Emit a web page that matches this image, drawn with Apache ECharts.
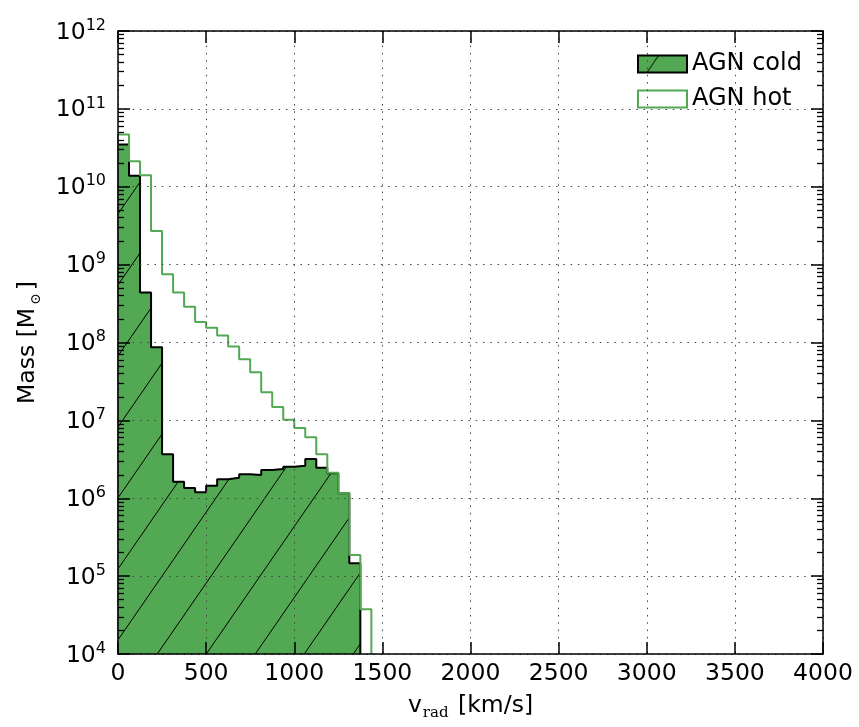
<!DOCTYPE html>
<html>
<head>
<meta charset="utf-8">
<script src="https://cdn.jsdelivr.net/npm/echarts@6/dist/echarts.min.js"></script>
<style>
html,body{margin:0;padding:0;background:#fff;}
#main{width:859px;height:727px;}
</style>
</head>
<body>
<div id="main"></div>
<script>
// histogram bins: 64 bins over 0..4000 km/s, only the filled ones listed
var binWidth = 62.5;
var massMin = 1e4;
var coldMass = [3.5e10, 1.38e10, 4.4e8, 8.7e7, 3.66e6, 1.63e6, 1.35e6, 1.19e6, 1.45e6, 1.75e6, 1.83e6,
    2.03e6, 1.99e6, 2.3e6, 2.37e6, 2.54e6, 2.61e6, 3.18e6, 2.47e6, 2.09e6, 1.16e6, 1.46e5];
var hotMass = [4.7e10, 2.13e10, 1.4e10, 2.7e9, 7.5e8, 4.4e8, 2.87e8, 1.83e8, 1.55e8, 1.23e8, 8.9e7,
    6.1e7, 4.15e7, 2.29e7, 1.48e7, 1.02e7, 8.0e6, 6.05e6, 3.66e6, 2.12e6, 1.16e6, 1.87e5, 3.75e4];
var xTicks = [0, 500, 1000, 1500, 2000, 2500, 3000, 3500, 4000];

var green = '#53a853';
var font = 'DejaVu Sans';
var fs = 23.5;

// step outline from bin values
function steps(vals) {
    var pts = [[0, massMin]];
    vals.forEach(function (v, i) {
        pts.push([i * binWidth, v]);
        pts.push([(i + 1) * binWidth, v]);
    });
    pts.push([vals.length * binWidth, massMin]);
    return pts;
}

// hatch tile '/'
function hatch() {
    var w = 49, s = 1.45, h = w * s;
    var c = document.createElement('canvas');
    c.width = w; c.height = Math.round(h);
    var ctx = c.getContext('2d');
    ctx.fillStyle = green;
    ctx.fillRect(0, 0, c.width, c.height);
    ctx.strokeStyle = '#000';
    ctx.lineWidth = 1;
    for (var k = -1; k <= 2; k++) {
        var x0 = 20.6 + k * w;
        ctx.beginPath();
        ctx.moveTo(x0, 0);
        ctx.lineTo(x0 - c.height / s, c.height);
        ctx.stroke();
    }
    return c;
}
var pattern = {image: hatch(), repeat: 'repeat'};

var myChart = echarts.init(document.getElementById('main'));
var gridLine = {show: true, lineStyle: {color: '#444', width: 1, type: [1.5, 5.8]}};
var frame = {show: true, onZero: false, lineStyle: {color: '#000', width: 1.5}};

var option = {
    animation: false,
    backgroundColor: '#fff',
    grid: {left: 118, right: 36, top: 31, bottom: 73},
    legend: {
        orient: 'vertical',
        left: 632, top: 47,
        itemWidth: 49, itemHeight: 17, itemGap: 11,
        icon: 'rect',
        textStyle: {fontFamily: font, fontSize: 24, color: '#000', padding: [0, 0, 0, 0]},
        data: [
            {name: 'AGN cold', itemStyle: {color: pattern, borderColor: '#000', borderWidth: 2}},
            {name: 'AGN hot', itemStyle: {color: '#fff', borderColor: green, borderWidth: 2}}
        ]
    },
    xAxis: [{
        type: 'value', min: 0, max: 4000, interval: 500, z: 5,
        axisLine: frame,
        axisTick: {inside: true, length: 12, lineStyle: {color: '#000', width: 1.5}},
        splitLine: gridLine,
        axisLabel: {fontFamily: font, fontSize: fs, color: '#000', margin: 8,
            formatter: function (v) { return xTicks.indexOf(v) >= 0 ? String(v) : ''; }},
        name: '{v|v}{s|rad}{v| [km/s]}',
        nameLocation: 'middle', nameGap: 40,
        nameTextStyle: {rich: {
            v: {fontFamily: font, fontSize: fs, color: '#000', verticalAlign: 'bottom'},
            s: {fontFamily: 'DejaVu Serif', fontSize: 15, color: '#000', verticalAlign: 'bottom', padding: [0, 2, -3, 1]}
        }}
    }, {
        type: 'value', position: 'top', min: 0, max: 4000, interval: 500, z: 5,
        axisLine: frame,
        axisTick: {inside: true, length: 12, lineStyle: {color: '#000', width: 1.5}},
        splitLine: {show: false},
        axisLabel: {show: false}
    }],
    yAxis: [{
        type: 'log', logBase: 10, min: massMin, max: 1e12, splitNumber: 8, z: 5,
        axisLine: frame,
        axisTick: {inside: true, length: 12, lineStyle: {color: '#000', width: 1.5}},
        minorTick: {show: true, splitNumber: 9, length: 6, lineStyle: {color: '#000', width: 1.3}},
        splitLine: gridLine,
        axisLabel: {
            margin: 12,
            formatter: function (v) { return '{b|10}{s|' + Math.round(Math.log10(v)) + '}'; },
            rich: {
                b: {fontFamily: font, fontSize: fs, color: '#000', verticalAlign: 'bottom'},
                s: {fontFamily: font, fontSize: 16, color: '#000', verticalAlign: 'bottom', padding: [0, 0, 11, 0]}
            }
        },
        name: '{v|Mass [M}{s|⊙}{v|]}',
        nameLocation: 'middle', nameGap: 78, nameRotate: 90,
        nameTextStyle: {rich: {
            v: {fontFamily: font, fontSize: fs, color: '#000', verticalAlign: 'bottom'},
            s: {fontFamily: 'DejaVu Serif', fontSize: 14, color: '#000', verticalAlign: 'bottom', padding: [0, 3, -3, 3]}
        }}
    }, {
        type: 'log', logBase: 10, min: massMin, max: 1e12, splitNumber: 8, position: 'right', z: 5,
        axisLine: frame,
        axisTick: {inside: true, length: 12, lineStyle: {color: '#000', width: 1.5}},
        minorTick: {show: true, splitNumber: 9, length: 6, lineStyle: {color: '#000', width: 1.3}},
        splitLine: {show: false},
        axisLabel: {show: false}
    }],
    series: [{
        name: 'AGN cold',
        type: 'line',
        data: steps(coldMass),
        symbol: 'none',
        z: 2,
        lineStyle: {color: '#000', width: 2},
        itemStyle: {color: green},
        areaStyle: {color: pattern, opacity: 1, origin: 'start'}
    }, {
        name: 'AGN hot',
        type: 'line',
        data: steps(hotMass),
        symbol: 'none',
        z: 3,
        lineStyle: {color: green, width: 2},
        itemStyle: {color: green}
    }]
};

myChart.setOption(option);
</script>
</body>
</html>
